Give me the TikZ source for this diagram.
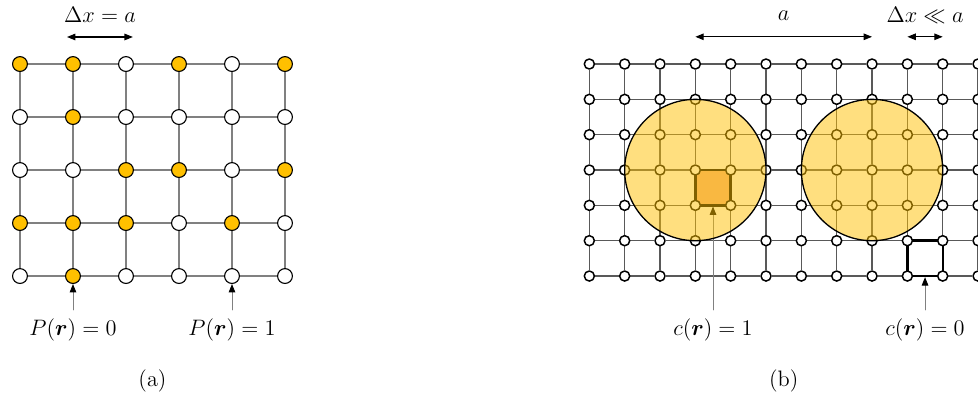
\documentclass[tikz,border=0pt]{standalone}
\usepackage{bm}
\usetikzlibrary{arrows.meta}

\definecolor{gold}{HTML}{FFC000}
\definecolor{peach}{HTML}{F4B183}

\pgfdeclarelayer{bonds}
\pgfdeclarelayer{cells}
\pgfdeclarelayer{blobs}
\pgfsetlayers{bonds,cells,main,blobs}

\tikzset{
  site/.style={circle, draw=black, line width=0.6pt, fill=white, inner sep=0pt, minimum size=0.28cm},
  fine/.style={circle, draw=black, line width=0.8pt, fill=white, inner sep=0pt, minimum size=0.19cm},
  bond/.style={gray, line width=0.7pt},
  finebond/.style={black!65, line width=0.6pt},
  span/.style={{Triangle[length=4.5pt,width=3.5pt]}-{Triangle[length=4.5pt,width=3.5pt]}, line width=0.6pt},
  pointer/.style={-{Triangle[length=4.5pt,width=3.5pt,color=black]}, gray, line width=0.5pt},
  cell/.style={line width=1.3pt},
  lbl/.style={font=\large}
}

\begin{document}
\begin{tikzpicture}[line cap=round, line join=round]
  \useasboundingbox (-0.377,-2.321) rectangle (18.075,5.208);

  % (a) coarse lattice, rows listed bottom to top (1 = occupied)
  \foreach \row [count=\j from 0] in {{0,1,0,0,0,0},{1,1,1,0,1,0},{0,0,1,1,0,1},{0,1,0,0,0,0},{1,1,0,1,0,1}}
    \foreach \v [count=\i from 0] in \row {
      \ifnum\v=1 \def\sitecol{gold}\else\def\sitecol{white}\fi
      \node[site, fill=\sitecol] (L-\i-\j) at (\i,\j) {};
    }

  % bonds
  \begin{pgfonlayer}{bonds}
    \foreach \a/\b in {0/1,1/2,2/3,3/4,4/5}
      \foreach \j in {0,...,4}
        \draw[bond] (L-\a-\j) -- (L-\b-\j);
    \foreach \i in {0,...,5}
      \foreach \a/\b in {0/1,1/2,2/3,3/4}
        \draw[bond] (L-\i-\a) -- (L-\i-\b);
  \end{pgfonlayer}

  % spacing
  \coordinate (dL1) at (0.887,4.51);
  \coordinate (dL2) at (2.13,4.51);
  \draw[span] (dL1) -- (dL2);
  \node[lbl] (dxa) at (1.51,4.93) {$\Delta x = a$};

  % pointers and labels
  \coordinate (pL0) at (1,-0.64);
  \coordinate (pL1) at (4,-0.64);
  \draw[pointer] (pL0) -- (L-1-0);
  \draw[pointer] (pL1) -- (L-4-0);
  \node[lbl] (P0) at (1,-1.02) {$P(\bm{r}) = 0$};
  \node[lbl] (P1) at (4,-1.02) {$P(\bm{r}) = 1$};
  \node[lbl] (capa) at (2.5,-1.98) {(a)};

  % (b) fine lattice
  \begin{scope}[shift={(10.742,0)}, x=0.6667cm, y=0.6667cm]
    \foreach \i in {0,...,11}
      \foreach \j in {0,...,6}
        \node[fine] (R-\i-\j) at (\i,\j) {};

    \begin{pgfonlayer}{bonds}
      \foreach \a/\b in {0/1,1/2,2/3,3/4,4/5,5/6,6/7,7/8,8/9,9/10,10/11}
        \foreach \j in {0,...,6}
          \draw[finebond] (R-\a-\j) -- (R-\b-\j);
      \foreach \i in {0,...,11}
        \foreach \a/\b in {0/1,1/2,2/3,3/4,4/5,5/6}
          \draw[finebond] (R-\i-\a) -- (R-\i-\b);
    \end{pgfonlayer}

    % cells
    \begin{pgfonlayer}{cells}
      \draw[cell, fill=peach] (R-3-3.center) rectangle (R-4-2.center);
      \draw[cell, fill=white] (R-9-1.center) rectangle (R-10-0.center);
    \end{pgfonlayer}

    % particles
    \begin{pgfonlayer}{blobs}
      \foreach \m in {3,8}
        \draw[fill=gold, fill opacity=0.5, line width=0.7pt] (R-\m-3.center) circle (2);
    \end{pgfonlayer}

    % spacings
    \coordinate (aL) at (3,6.77);
    \coordinate (aR) at (8,6.77);
    \draw[span] (aL) -- (aR);
    \node[lbl] (alab) at (5.5,7.38) {$a$};
    \coordinate (dR1) at (9,6.77);
    \coordinate (dR2) at (10,6.77);
    \draw[span] (dR1) -- (dR2);
    \node[lbl] (dxll) at (9.5,7.38) {$\Delta x \ll a$};

    % pointers and labels
    \coordinate (cell1) at (3.5,2);
    \coordinate (cell0) at (9.5,0);
    \coordinate (pR1) at (3.5,-0.96);
    \coordinate (pR0) at (9.5,-0.96);
    \draw[pointer, shorten >=0.6pt] (pR1) -- (cell1);
    \draw[pointer, shorten >=0.6pt] (pR0) -- (cell0);
    \node[lbl] (c1) at (3.5,-1.53) {$c(\bm{r}) = 1$};
    \node[lbl] (c0) at (9.5,-1.53) {$c(\bm{r}) = 0$};
    \node[lbl] (capb) at (5.5,-2.97) {(b)};
  \end{scope}
\end{tikzpicture}
\end{document}
